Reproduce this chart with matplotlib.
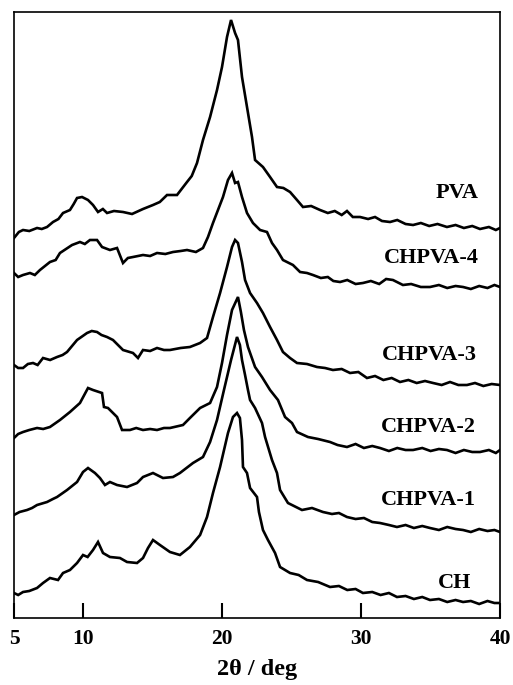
import numpy as np
import matplotlib
matplotlib.use('Agg')
from matplotlib import pyplot as plt

#################### DATA (intensity in a.u., curves stacked) ####################
tt_pva = [5.00, 5.35, 5.65, 6.1, 6.66, 7.0, 7.38, 7.81, 8.2, 8.53, 9.03, 9.3, 9.54, 9.90, 10.33, 10.69,
          11.05, 11.4, 11.70, 12.2, 12.85, 13.5, 14.29, 15.01, 15.5, 16.02, 16.74, 17.46, 17.8, 18.18,
          18.61, 19.12, 19.62, 19.98, 20.34, 20.63, 20.92, 21.13, 21.42, 21.78, 22.14, 22.36, 22.93,
          23.44, 23.94, 24.4, 24.88, 25.38, 25.81, 26.4, 27.04, 27.6, 28.1, 28.6, 28.98, 29.4, 29.92,
          30.5, 31.0, 31.5, 32.08, 32.6, 33.2, 33.74, 34.3, 34.9, 35.5, 36.18, 36.8, 37.4, 38.0, 38.56,
          39.2, 39.7, 40.00]
i_pva = [380, 386, 388, 387, 390, 389, 391, 396, 399, 405, 408, 414, 420, 421, 418, 413,
         406, 409, 405, 407, 406, 404, 409, 413, 416, 423, 423, 436, 442, 455,
         478, 501, 528, 551, 581, 598, 585, 578, 541, 511, 481, 458, 451,
         441, 431, 430, 426, 418, 411, 412, 408, 405, 407, 403, 407, 401, 401,
         399, 401, 397, 396, 398, 394, 393, 395, 392, 394, 391, 393, 390, 392, 389,
         391, 388, 390]

tt_c4 = [5.00, 5.3, 5.65, 6.15, 6.5, 6.87, 7.59, 8.0, 8.31, 9.18, 9.75, 10.1, 10.47, 10.98, 11.34,
         11.91, 12.42, 12.85, 13.2, 13.57, 14.29, 14.8, 15.30, 15.9, 16.45, 17.0, 17.46, 18.1, 18.61,
         18.97, 19.33, 19.69, 20.05, 20.41, 20.70, 20.92, 21.13, 21.42, 21.78, 22.21, 22.72, 23.22,
         23.58, 23.94, 24.37, 25.09, 25.60, 26.1, 26.53, 27.1, 27.6, 28.0, 28.48, 29.0, 29.6, 30.13,
         30.7, 31.3, 31.8, 32.29, 33.01, 33.6, 34.3, 34.96, 35.6, 36.2, 36.8, 37.34, 37.9, 38.5, 39.1,
         39.6, 40.00]
i_c4 = [345, 341, 343, 345, 343, 348, 356, 358, 365, 373, 376, 374, 378, 378, 371,
        368, 370, 355, 360, 361, 363, 362, 365, 364, 366, 367, 368, 366, 370,
        381, 395, 408, 421, 438, 445, 435, 436, 421, 405, 395, 388, 386,
        375, 368, 358, 353, 346, 345, 343, 340, 341, 337, 336, 338, 334, 335,
        337, 334, 339, 338, 333, 334, 331, 331, 333, 330, 332, 331, 329, 332, 330,
        333, 331]

tt_c3 = [5.00, 5.3, 5.65, 6.0, 6.37, 6.7, 7.09, 7.6, 8.10, 8.5, 8.82, 9.54, 10.26, 10.6, 10.98, 11.3,
         11.70, 12.13, 12.85, 13.57, 13.93, 14.29, 14.8, 15.30, 15.8, 16.23, 17.0, 17.67, 18.40,
         18.90, 19.33, 19.84, 20.34, 20.70, 20.92, 21.13, 21.42, 21.64, 22.00, 22.50, 22.93, 23.44,
         23.94, 24.37, 24.88, 25.38, 26.1, 26.82, 27.4, 27.97, 28.6, 29.2, 29.8, 30.42, 31.0, 31.6,
         32.2, 32.80, 33.4, 34.0, 34.6, 35.18, 35.8, 36.4, 37.0, 37.62, 38.2, 38.8, 39.4, 40.00]
i_c3 = [253, 250, 250, 254, 255, 253, 260, 258, 261, 263, 266, 278, 285, 287, 286, 283,
        281, 278, 268, 265, 260, 268, 267, 270, 268, 268, 270, 271, 275,
        280, 301, 325, 351, 371, 378, 375, 356, 338, 325, 315, 305, 291,
        278, 266, 260, 255, 254, 251, 250, 248, 249, 245, 246, 240, 242, 238,
        240, 236, 238, 235, 237, 235, 233, 236, 233, 233, 235, 232, 234, 233]

tt_c2 = [5.00, 5.3, 5.65, 6.1, 6.66, 7.1, 7.59, 8.31, 9.03, 9.75, 10.33, 10.69, 11.34, 11.48, 11.77,
         12.42, 12.78, 13.35, 13.8, 14.29, 14.8, 15.30, 15.8, 16.23, 17.17, 17.67, 18.40, 19.12,
         19.62, 19.98, 20.34, 20.70, 21.13, 21.34, 21.56, 21.85, 22.36, 22.86, 23.44, 24.01, 24.52,
         25.02, 25.38, 26.17, 26.9, 27.76, 28.3, 28.98, 29.6, 30.2, 30.8, 31.36, 32.0, 32.6, 33.2,
         33.74, 34.4, 35.0, 35.6, 36.18, 36.8, 37.4, 38.0, 38.56, 39.2, 39.7, 40.00]
i_c2 = [180, 184, 186, 188, 190, 189, 191, 198, 206, 215, 230, 228, 225, 211, 210,
        201, 188, 188, 190, 188, 189, 188, 190, 190, 193, 200, 210, 215,
        231, 255, 283, 308, 321, 306, 288, 271, 251, 241, 228, 218, 201,
        195, 186, 181, 179, 176, 173, 171, 174, 170, 172, 170, 167, 170, 168,
        168, 170, 167, 169, 168, 165, 168, 166, 166, 168, 165, 168]

tt_c1 = [5.00, 5.4, 5.94, 6.3, 6.66, 7.38, 7.8, 8.10, 8.82, 9.54, 9.97, 10.33, 10.83, 11.19, 11.55,
         11.91, 12.42, 13.14, 13.86, 14.29, 15.01, 15.73, 16.45, 16.95, 17.89, 18.61, 19.12, 19.62,
         20.12, 20.63, 21.06, 21.27, 21.42, 21.64, 21.85, 22.00, 22.36, 22.86, 23.08, 23.58, 23.94,
         24.16, 24.73, 25.74, 26.46, 27.25, 27.9, 28.4, 28.98, 29.6, 30.2, 30.8, 31.36, 32.0, 32.58,
         33.2, 33.8, 34.4, 34.96, 35.6, 36.2, 36.8, 37.34, 37.9, 38.5, 39.1, 39.6, 40.00]
i_c1 = [103, 106, 108, 110, 113, 116, 119, 121, 128, 136, 146, 150, 145, 140, 133,
        136, 133, 131, 135, 141, 145, 140, 141, 145, 155, 161, 176, 198,
        228, 258, 281, 273, 258, 243, 228, 218, 210, 195, 181, 158, 145,
        128, 115, 108, 110, 106, 104, 105, 101, 99, 100, 96, 95, 93, 91,
        93, 90, 92, 90, 88, 91, 89, 88, 86, 89, 87, 88, 86]

tt_ch = [5.00, 5.3, 5.65, 6.1, 6.66, 7.09, 7.59, 8.17, 8.53, 9.03, 9.54, 9.97, 10.3, 10.69, 11.05,
         11.41, 11.91, 12.63, 13.14, 13.86, 14.29, 14.65, 15.01, 15.51, 16.23, 16.95, 17.67, 18.40,
         18.90, 19.33, 19.84, 20.41, 20.77, 21.06, 21.27, 21.42, 21.49, 21.78, 22.00, 22.50, 22.64,
         22.93, 23.29, 23.80, 24.16, 24.88, 25.5, 26.10, 26.9, 27.76, 28.4, 29.0, 29.6, 30.13, 30.8,
         31.4, 32.0, 32.58, 33.2, 33.8, 34.4, 34.96, 35.6, 36.2, 36.8, 37.34, 37.9, 38.5, 39.1,
         39.6, 40.00]
i_ch = [25, 23, 26, 27, 30, 35, 40, 38, 45, 48, 55, 63, 61, 68, 76,
        65, 61, 60, 56, 55, 60, 70, 78, 73, 66, 63, 71, 83,
        101, 125, 151, 185, 201, 205, 200, 178, 151, 145, 130, 121, 106,
        88, 78, 65, 51, 45, 43, 38, 36, 31, 32, 28, 29, 25, 26,
        23, 25, 21, 22, 19, 21, 18, 19, 16, 18, 16, 17, 14, 17,
        15, 15]

names = ['PVA', 'CHPVA-4', 'CHPVA-3', 'CHPVA-2', 'CHPVA-1', 'CH']
label_x = [38.45, 38.45, 38.35, 38.25, 38.25, 37.95]
label_y = [425, 360, 263, 191, 118, 35]

xticks = [5, 10, 20, 30, 40]

###############################################################################################
plt.rcParams['font.family'] = ['Liberation Serif', 'DejaVu Serif']
plt.rcParams['font.weight'] = 'bold'

fig = plt.figure(figsize=(5.13, 6.85), dpi=100)
ax = fig.add_axes([14/513, 67/685, 486/513, 606/685])

curves = [(tt_pva, i_pva), (tt_c4, i_c4), (tt_c3, i_c3), (tt_c2, i_c2), (tt_c1, i_c1), (tt_ch, i_ch)]
for tt, inten in curves:
    ax.plot(tt, inten, color='black', lw=1.9, solid_joinstyle='miter')

for name, lx, ly in zip(names, label_x, label_y):
    ax.text(lx, ly, name, ha='right', va='center', fontsize=16, fontweight='bold')

ax.set_xlim(5, 40)
ax.set_ylim(0, 606)
ax.set_yticks([])
ax.set_xticks(xticks)
ax.set_xticklabels([str(t) for t in xticks])
ax.tick_params(axis='x', direction='in', length=11, width=1.5, pad=8, labelsize=15.5)
for lab in ax.get_xticklabels():
    lab.set_fontweight('bold')
for sp in ax.spines.values():
    sp.set_linewidth(1.2)
ax.set_xlabel('2θ / deg', fontsize=17.5, fontweight='bold', labelpad=7)

fig.savefig('out.png', dpi=100)
